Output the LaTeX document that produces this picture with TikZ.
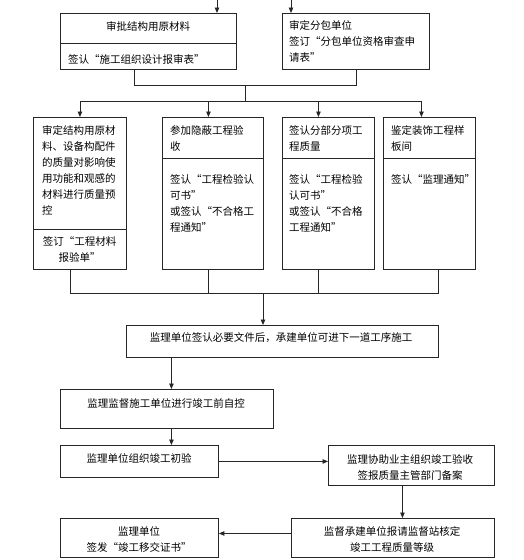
\documentclass[tikz,border=0pt]{standalone}
\usepackage{fontspec}
\newfontfamily\cjk{Noto Sans CJK SC}
\usetikzlibrary{arrows.meta}
\begin{document}
\begin{tikzpicture}[x=1pt,y=-1pt,
  box/.style={draw=black!85, line width=0.9pt, anchor=north west, inner sep=0pt},
  txt/.style={inner sep=0pt, font=\cjk\fontsize{10.5}{16}\selectfont, text=black},
  ln/.style={draw=black!85, line width=0.9pt},
  arr/.style={ln, -{Triangle[length=5.5pt,width=4.5pt]}}]
\useasboundingbox (0,0) rectangle (523,560);
% top boxes
\node[box, minimum width=176pt, minimum height=56pt] (b1) at (60,13) {};
\node[box, minimum width=147pt, minimum height=56pt] (b2) at (282,13) {};
\draw[ln] ([yshift=-30pt]b1.north west) -- ([yshift=-30pt]b1.north east);
\node[txt, anchor=north] (b1t) at (148,21.5) {审批结构用原材料};
\node[txt, anchor=north west] (b1b) at (68,54) {签认“施工组织设计报审表”};
\node[txt, anchor=north west, align=left] (b2t) at (289,20) {审定分包单位\\签订“分包单位资格审查申\\请表”};
\coordinate (t1) at (217,0);
\coordinate (t2) at (291,0);
\draw[arr] (t1) -- (t1 |- b1.north);
\draw[arr] (t2) -- (t2 |- b2.north);
% middle row
\node[box, minimum width=93pt, minimum height=152pt] (bA) at (33,117) {};
\node[box, minimum width=101pt, minimum height=152pt] (bB) at (162,117) {};
\node[box, minimum width=92pt, minimum height=152pt] (bC) at (282,117) {};
\node[box, minimum width=92pt, minimum height=152pt] (bD) at (383,117) {};
\draw[ln] ([yshift=-112pt]bA.north west) -- ([yshift=-112pt]bA.north east);
\draw[ln] ([yshift=-41pt]bB.north west) -- ([yshift=-41pt]bB.north east);
\draw[ln] ([yshift=-41pt]bC.north west) -- ([yshift=-41pt]bC.north east);
\draw[ln] ([yshift=-41pt]bD.north west) -- ([yshift=-41pt]bD.north east);
\node[txt, anchor=north west, align=left] (bAt) at (42,125.5) {审定结构用原材\\料、设备构配件\\的质量对影响使\\用功能和观感的\\材料进行质量预\\控};
\node[txt, anchor=north, align=center] (bAb) at (79.5,236.5) {签订“工程材料\\报验单”};
\node[txt, anchor=north west, align=left] (bBt) at (170,125.5) {参加隐蔽工程验\\收};
\node[txt, anchor=north west, align=left] (bBb) at (170,174.5) {签认“工程检验认\\可书”\\或签认“不合格工\\程通知”};
\node[txt, anchor=north west, align=left] (bCt) at (289,125.5) {签认分部分项工\\程质量};
\node[txt, anchor=north west, align=left] (bCb) at (289,174.5) {签认“工程检验\\认可书”\\或签认“不合格\\工程通知”};
\node[txt, anchor=north west, align=left] (bDt) at (391,125.5) {鉴定装饰工程样\\板间};
\node[txt, anchor=north west, align=left] (bDb) at (391,174.5) {签认“监理通知”};
% connectors top -> middle
\coordinate (j1) at (245,85);
\coordinate (bus) at (245,101);
\draw[ln] ([xshift=-14pt]b1.south) -- ++(0,16) -| (b2.south);
\draw[ln] (j1) -- (bus);
\draw[arr] (bus) -| (bA.north);
\draw[arr] (bus) -| ([xshift=-4.5pt]bB.north);
\draw[arr] (bus) -| ([xshift=-10pt]bC.north);
\draw[arr] (bus) -| ([xshift=-8pt]bD.north);
% box E
\node[box, minimum width=312pt, minimum height=32pt] (bE) at (126,325) {};
\node[txt] (bEt) at (281,338) {监理单位签认必要文件后，承建单位可进下一道工序施工};
\coordinate (bus2) at (263,293);
\draw[ln] ([xshift=-9.5pt]bA.south) |- (bus2);
\draw[ln] ([xshift=9pt]bD.south) |- (bus2);
\draw[ln] ([xshift=-4.5pt]bB.south) -- ++(0,24);
\draw[ln] ([xshift=-10pt]bC.south) -- ++(0,24);
\draw[arr] (bus2) -- (bus2 |- bE.north);
% box F
\node[box, minimum width=213pt, minimum height=39pt] (bF) at (60,389) {};
\node[txt] (bFt) at (166,403) {监理监督施工单位进行竣工前自控};
\coordinate (fx) at ([xshift=4.5pt]bF.north);
\draw[arr] (fx |- bE.south) -- (fx);
% box G
\node[box, minimum width=158pt, minimum height=32pt] (bG) at (60,445) {};
\node[txt] (bGt) at (139,458) {监理单位组织竣工初验};
\draw[arr] (fx |- bF.south) -- (fx |- bG.north);
% box H
\node[box, minimum width=166pt, minimum height=40pt] (bH) at (328,445) {};
\node[txt, align=center] (bHt) at (410,467) {监理协助业主组织竣工验收\\签报质量主管部门备案};
\draw[arr] (bG.east) -- (bG.east -| bH.west);
% box I
\node[box, minimum width=203pt, minimum height=39pt] (bI) at (291,518) {};
\node[txt, align=center] (bIt) at (392,539.5) {监督承建单位报请监督站核定\\竣工工程质量等级};
\coordinate (hx) at ([xshift=-9pt]bH.south);
\draw[arr] (hx) -- (hx |- bI.north);
% box J
\node[box, minimum width=158pt, minimum height=39pt] (bJ) at (60,518) {};
\node[txt, align=center] (bJt) at (139,539.5) {监理单位\\签发“竣工移交证书”};
\draw[arr] ([yshift=4.5pt]bI.west) -- ([yshift=4.5pt]bJ.east);
\end{tikzpicture}
\end{document}
